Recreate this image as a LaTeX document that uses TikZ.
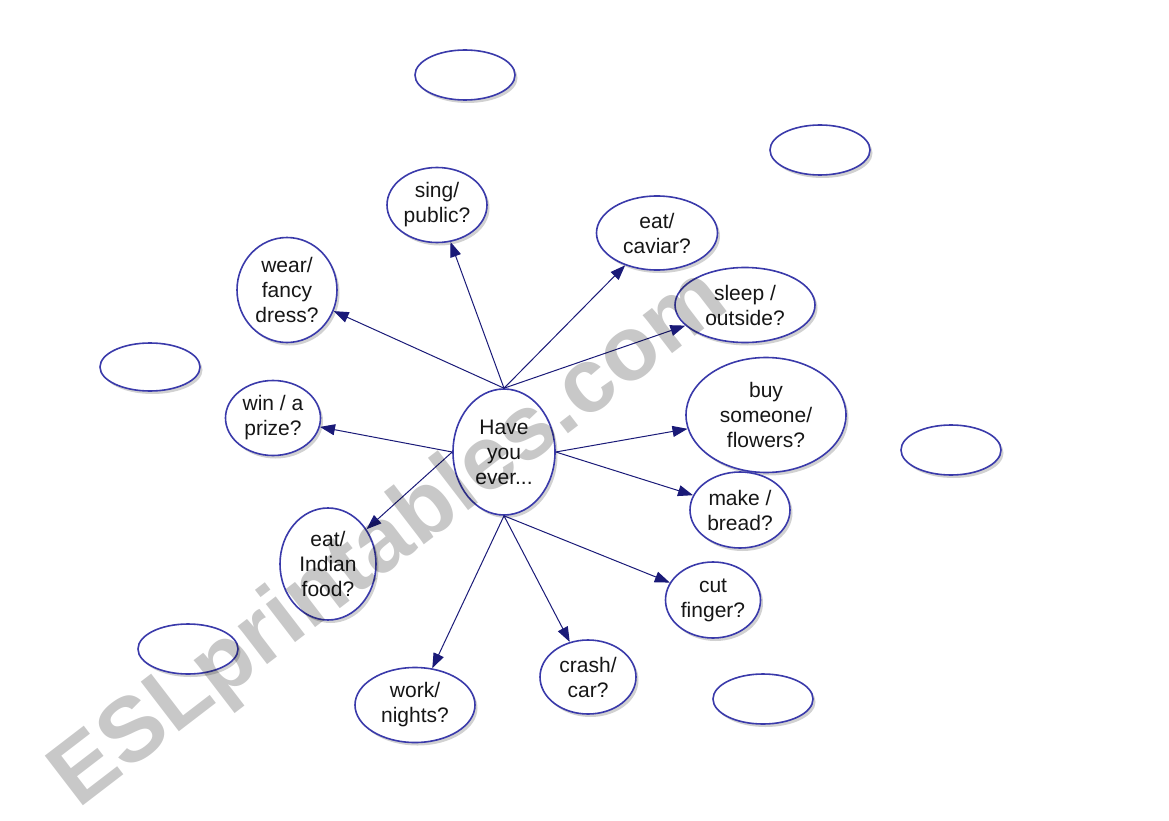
\documentclass[tikz,border=0pt]{standalone}
\usepackage{fontspec}
\setmainfont{Liberation Sans}
\usetikzlibrary{shapes.geometric,arrows.meta,shadows}
\definecolor{rim}{HTML}{3A3AAA}
\definecolor{arr}{HTML}{1A1A78}
\definecolor{txt}{HTML}{161616}
\definecolor{wm}{HTML}{C8C8C8}
\tikzset{
  bubble/.style={ellipse, draw=rim, line width=1.6pt, fill=white, inner sep=0pt,
    align=center, text=txt, font=\fontsize{21}{25}\selectfont,
    drop shadow={shadow xshift=2.5pt, shadow yshift=-3pt, opacity=0.3, fill=black!60}},
  link/.style={draw=arr, line width=1pt, -{Triangle[length=15pt,width=11pt]}}
}
\begin{document}
\begin{tikzpicture}[x=1pt,y=-1pt]
\useasboundingbox (0,0) rectangle (1169,821);
\node[bubble, minimum width=102pt, minimum height=126pt] (c) at (504,452) {Have\\you\\ever...};
\node[bubble, minimum width=100pt, minimum height=75pt] (sing) at (437,205) {sing/\\public?};
\node[bubble, minimum width=121pt, minimum height=74pt] (cav) at (657,233) {eat/\\caviar?};
\node[bubble, minimum width=100pt, minimum height=105pt] (wear) at (287,290) {wear/\\fancy\\dress?};
\node[bubble, minimum width=140pt, minimum height=75pt] (sleep) at (745,305) {sleep /\\outside?};
\node[bubble, minimum width=160pt, minimum height=115pt] (buy) at (766,415) {buy\\someone/\\flowers?};
\node[bubble, minimum width=95pt, minimum height=75pt] (win) at (273,418) {win / a\\prize?};
\node[bubble, minimum width=100pt, minimum height=76pt] (make) at (740,510) {make /\\bread?};
\node[bubble, minimum width=96pt, minimum height=112pt] (ind) at (328,564) {eat/\\Indian\\food?};
\node[bubble, minimum width=95pt, minimum height=76pt] (cut) at (713,600) {cut\\finger?};
\node[bubble, minimum width=96pt, minimum height=74pt] (crash) at (588,677) {crash/\\car?};
\node[bubble, minimum width=120pt, minimum height=75pt] (work) at (415,705) {work/\\nights?};
\node[bubble, minimum width=100pt, minimum height=50pt] (e1) at (465,75) {};
\node[bubble, minimum width=100pt, minimum height=50pt] (e2) at (820,150) {};
\node[bubble, minimum width=100pt, minimum height=48pt] (e3) at (150,367) {};
\node[bubble, minimum width=100pt, minimum height=50pt] (e4) at (951,450) {};
\node[bubble, minimum width=100pt, minimum height=50pt] (e5) at (188,649) {};
\node[bubble, minimum width=100pt, minimum height=50pt] (e6) at (763,699) {};
\draw[link] (c.north) -- (wear);
\draw[link] (c.north) -- (sing);
\draw[link] (c.north) -- (cav);
\draw[link] (c.north) -- (sleep);
\draw[link] (c.east) -- (buy);
\draw[link] (c.east) -- (make);
\draw[link] (c.west) -- (win);
\draw[link] (c.west) -- (ind);
\draw[link] (c.south) -- (work);
\draw[link] (c.south) -- (crash);
\draw[link] (c.south) -- (cut);
\node[blend mode=multiply, text=wm, font=\fontsize{91}{91}\bfseries, rotate=37.5, anchor=base west, inner sep=0pt] (wmark) at (78,810) {ESLprintables.com};
\end{tikzpicture}
\end{document}
